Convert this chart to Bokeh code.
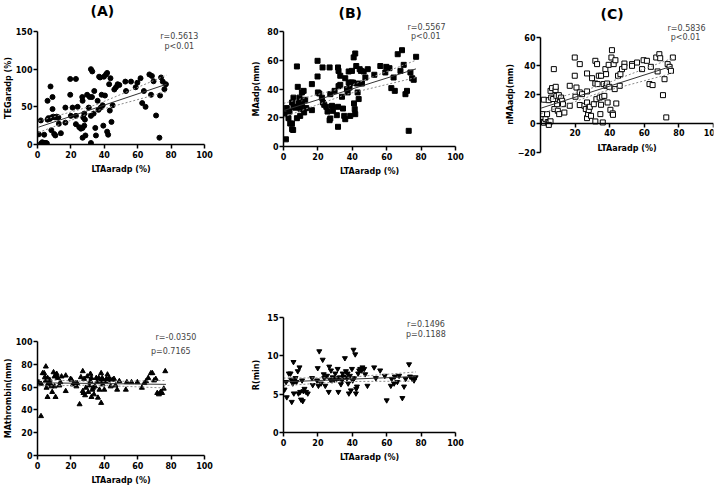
from bokeh.plotting import figure
from bokeh.layouts import row, column
from bokeh.models import Label, FixedTicker, Range1d, Title
from bokeh.embed import file_html
from bokeh.resources import INLINE

FONT = "DejaVu Sans"

# ---------------- data ----------------
xticks = [0, 20, 40, 60, 80, 100]
xticks_C = [20, 40, 60, 80, 100]

# (A) TEGaradp (%) vs LTAaradp (%)
lta_A = [0.8, 2, 2, 2.8, 3.9, 4.3, 5.1, 5.6, 4, 6,
         6, 7.4, 6.5, 8.5, 9.5, 10.5, 11.5, 12.5, 7.8, 9,
         9, 8.3, 10, 10.7, 12.8, 14, 16.7, 16.7, 19.6, 19.6,
         20, 21, 23, 23, 23, 24, 25, 26, 27, 28,
         26.8, 27, 27, 28, 28.4, 28.7, 29.7, 30.7, 31.3, 32,
         32.8, 32, 32.6, 32, 33.6, 34, 34.6, 35, 36, 36.5,
         36.9, 37.5, 37.9, 38.4, 39, 39.4, 39.8, 40.4, 41, 41.7,
         41.7, 42.3, 42.9, 43.3, 43.7, 44.3, 45, 46, 47, 48,
         49, 52.6, 53, 56, 58.8, 59.8, 61.7, 62.7, 63.7, 64.7,
         67, 68, 68.5, 69.5, 71, 73, 73.4, 74, 75, 76,
         76.9, 27.4]
teg_A = [13.5, 32, 1, 3, 2, 1.5, 2, 1.5, 13, 58,
         33, 34, 35, 36, 37, 36, 37, 36, 77, 63,
         47, 19, 14, 12, 27.5, 15, 49, 29, 87, 66,
         38, 49, 87, 38, 27, 50, 23, 21, 22, 25,
         63, 58, 9, 41, 33, 12, 66, 49, 63, 100,
         97, 2, 63, 38, 41, 71, 22, 12, 58, 46,
         90, 89, 49, 66, 52, 25, 90, 65, 93, 95,
         17, 13, 80, 45, 88, 30, 52, 73, 76, 80,
         79, 83.5, 71, 83.5, 76, 82, 88, 55, 71, 50,
         93, 66, 91, 84, 38.5, 9, 65, 89, 83.5, 73.5,
         80, 36]
fit_A_x = [0.6, 77.3]
fit_A_y = [23, 80]
band_A_x = [0.6, 35, 77.3]
band_A_hi = [31, 52.6, 92]
band_A_lo = [16, 44.6, 70]

# (B) MAadp(mm)
lta_B = [0.6, 1.4, 1.9, 2.9, 3.5, 3.9, 4.9, 5, 5.6, 5,
         5.8, 5.8, 7, 8, 7.8, 7.8, 8.3, 8.7, 9.3, 9.7,
         10, 10.7, 10.7, 11.7, 12, 12.6, 13.2, 16.5, 16.5, 19.8,
         19.8, 20, 20.8, 22.3, 22.7, 22.9, 23.7, 24.9, 25.6, 26.8,
         26.8, 27.2, 27.2, 28.2, 28.7, 29.7, 31, 31.7, 32, 31.7,
         31.7, 32, 33, 33, 34, 34.6, 35.3, 35.9, 35.9, 36.9,
         37.3, 37.9, 37.9, 38.4, 38.8, 39.4, 39.8, 40.4, 40.8, 41,
         41.4, 41.7, 41.7, 42.3, 42.7, 43.1, 43.7, 44.3, 45, 45.6,
         46.6, 47.6, 49, 52.8, 56.3, 59.2, 59.8, 61.6, 62.7, 64,
         64.7, 66.4, 68, 68.9, 69.9, 70.9, 71.8, 72.8, 73.8, 74.8,
         75.7, 77.1]
ma_B = [22.5, 5, 26.7, 19.7, 24.3, 16, 16, 12, 11.5, 30.6,
        27.6, 34, 27, 27.5, 55.7, 19.7, 41.5, 30.6, 34, 21.3,
        26, 29.4, 37.6, 38.7, 23.7, 32.5, 26.7, 43.4, 25.3, 59.6,
        48.7, 37.6, 36.9, 34, 55, 30.6, 29, 27.6, 24.3, 55,
        18.3, 19.5, 36.4, 28.3, 24.8, 38.7, 21.8, 55, 52.6, 13.7,
        27.6, 42, 42.9, 49.2, 34.6, 26.4, 21.3, 19, 47.5, 39.9,
        37.6, 52.2, 44.5, 41, 21.3, 44.5, 52.6, 44.5, 62, 30,
        26, 64.7, 22.5, 56, 43.8, 37.6, 33, 53.8, 52.6, 43.8,
        52.2, 48, 53.8, 49.9, 56, 51.5, 55.4, 54.5, 40.6, 48,
        38.7, 64.2, 52.6, 67, 56.8, 36.4, 38.7, 10.9, 51.5, 47.5,
        46.4, 62.4]
fit_B_x = [0, 77]
fit_B_y = [25, 54]
band_B_x = [0, 37, 77]
band_B_hi = [30, 41.5, 60]
band_B_lo = [20.5, 36.5, 48]

# (C) nMAadp(mm)
lta_C = [1, 1.3, 2, 1.9, 2.9, 3.8, 4.2, 5, 5.8, 4.8,
         4.8, 5.8, 6.2, 6.7, 7.3, 7.7, 8, 8.7, 8.8, 9.2,
         9.6, 10, 10.6, 10.8, 11.2, 11.9, 12.5, 13, 13.8, 16.9,
         16.9, 19.8, 19.8, 20.2, 20.8, 22.7, 22.7, 22.7, 24, 25.4,
         26.2, 26.9, 26.9, 26.9, 26.9, 27.5, 27.9, 28.5, 29.2, 29.8,
         30.8, 31.7, 31.7, 31.7, 32.3, 32.7, 33, 33.7, 34.2, 34.6,
         35, 35, 35.6, 36, 36.5, 36.9, 37.5, 37.9, 38, 38.5,
         38.8, 39.4, 39.8, 40.4, 41, 41.3, 41.7, 41.9, 42.3, 42.9,
         43.3, 43.8, 44.8, 45.8, 46.2, 47.1, 48.5, 48.5, 52.9, 52.9,
         55.8, 58.7, 59.6, 61.5, 63, 63.8, 64.8, 66.9, 67.7, 68.7,
         69.2, 70.8, 71.7, 72.7, 73.5, 74.6, 75.4, 76.5]
nma_C = [6.5, 1, 0.5, 16.5, 3, 6.5, 1, 0.5, 1.5, -1,
         16.2, 22.7, 18, 24.6, 17, 37.8, 10, 23.2, 25.5, 19.2,
         13.4, 8.8, 19.7, 6.5, 16.2, 18, 15.8, 13.4, 7.6, 26.2,
         12.3, 45.9, 33.2, 18.6, 25, 41.3, 21.6, 12.8, 20.4, 12.3,
         10, 34.8, 22.3, 14.6, 3.7, 6.5, 9.3, 11.6, 5.3, 31.5,
         13.4, 43.6, 27.8, 1.4, 16.9, 41.3, 27.4, 33.2, 18, 6.5,
         13, 33.2, 18.6, 0.7, 27.4, 19.2, 37.8, 34.3, 26.2, 27.8,
         14.6, 40.8, 25.5, 9.5, 45.9, 51, 7, 6, 41.3, 23.9,
         44, 13.9, 33.2, 26.2, 34.3, 37.8, 41.7, 39.4, 41.3, 40.1,
         42.4, 37.8, 44, 43.6, 27.4, 39.4, 26.7, 45.9, 36.2, 48.2,
         45.4, 19.7, 30.8, 4.2, 41.3, 39.4, 36.6, 45.9]
fit_C_x = [0.4, 76.5]
fit_C_y = [10.7, 40.1]
band_C_x = [0.4, 35, 76.5]
band_C_hi = [14.6, 26.5, 45.5]
band_C_lo = [6.8, 21.7, 35]

# (D) MAthrombin(mm)
lta_D = [0.6, 2.1, 2.1, 3.1, 4, 4.4, 5, 5, 5.4, 6,
         6, 6.3, 6.9, 7.3, 7.9, 8.3, 8.8, 9.6, 10.2, 10.2,
         10.8, 10.8, 11.5, 12.1, 13.1, 13.7, 14.4, 16.9, 16.9, 19.8,
         20.4, 21.2, 22.7, 23.3, 23.7, 25.2, 26, 27.1, 27.1, 27.5,
         27.9, 28.5, 29, 29.8, 30.4, 31, 31.7, 31.7, 32.3, 32.3,
         32.9, 33.3, 33.8, 34.4, 35.2, 35.6, 36.2, 36.7, 37.1, 37.5,
         38.1, 38.1, 38.7, 39, 39.4, 40, 40.6, 41.3, 41.9, 42.5,
         42.9, 43.8, 44.8, 45.8, 46.7, 47.7, 49, 52.9, 53.5, 56.3,
         59.8, 62.5, 64, 65, 66.3, 67.9, 68.8, 69.8, 70.8, 71.7,
         72.7, 73.7, 74.6, 75.6, 76.5]
mat_D = [64.3, 34.5, 62.9, 72.2, 72.2, 68.7, 78, 65.8, 59.4, 51.3,
         68, 62.9, 64.3, 66.4, 62.3, 60.6, 55.7, 73, 69.3, 60.6,
         51.3, 70.7, 71.6, 68, 61.4, 64.3, 69.3, 70.1, 56.5, 67.2,
         66.4, 62.3, 63.5, 60.6, 63.5, 44.9, 68.7, 73.9, 56.5, 54.8,
         67.2, 52.8, 59.4, 69.3, 55.7, 61.4, 71.6, 65.2, 51.3, 68,
         57.7, 59.4, 53.6, 60.6, 68, 64.3, 50.7, 68, 57.7, 65.2,
         72.2, 46.1, 68, 62.3, 65.8, 57.7, 65.2, 67.2, 71, 65.8,
         68, 60.6, 66.4, 67.2, 61.4, 57.7, 65.2, 57.7, 64.3, 64.3,
         64.3, 59.4, 63.5, 65.2, 68, 72.2, 72.2, 65.8, 67.2, 54.8,
         53.6, 55.7, 54.8, 58.6, 73.9]
fit_D_x = [0.6, 76.9]
fit_D_y = [63.8, 62.4]
band_D_x = [0.6, 35, 76.9]
band_D_hi = [66.6, 64.7, 65.8]
band_D_lo = [61, 61.7, 59.2]

# (E) R(min)
lta_E = [0.6, 1.5, 1.9, 3.1, 4.1, 4.4, 4.8, 5.4, 5.8, 6,
         6.4, 7, 7.5, 8.3, 8.7, 9.3, 9.7, 10.2, 10.8, 11.2,
         11.6, 12.2, 13.1, 14.1, 16.6, 17, 19.5, 19.9, 20.3, 20.8,
         21.8, 22.8, 23.4, 23.7, 24.3, 25.3, 26.3, 26.6, 27.2, 27.6,
         28.2, 28.6, 29.5, 30.1, 30.9, 31.5, 31.9, 32.2, 32.8, 33.4,
         34, 34.4, 35, 35.7, 36.3, 36.9, 37.3, 37.6, 38, 38.6,
         39.2, 39.8, 40.2, 40.7, 41.1, 41.7, 42.1, 42.3, 42.7, 43.4,
         44, 44.6, 45.4, 45.9, 46.9, 47.5, 48.8, 52.7, 53.7, 56.2,
         58.9, 60, 62.4, 62.9, 64.3, 64.7, 66.2, 67.2, 69.1, 70.1,
         71, 73, 73.6, 74.9, 75.9, 76.8]
r_E = [5.6, 6.6, 4.6, 7.7, 7.7, 6.9, 4, 6.4, 9.2, 5.1,
       6.7, 7.1, 6.6, 8, 5.1, 8.5, 5.3, 4.3, 6.8, 4.1,
       5.4, 5.7, 5.3, 5.1, 7.1, 6.2, 6.8, 8.4, 6.1, 10.6,
       6.4, 9.5, 7.6, 7.1, 6.1, 7.4, 5.3, 8.6, 6.9, 8.1,
       6.8, 7.2, 6.9, 7.7, 7, 8.3, 5.3, 7.1, 7.2, 6.3,
       6.8, 7.7, 7.3, 9.7, 8, 7.1, 7.7, 6.4, 5.1, 7.4,
       5.5, 8.3, 6.8, 10.8, 7.1, 10.2, 5.1, 5.7, 6, 7.7,
       8.1, 8.3, 8.1, 8.5, 8.3, 7.6, 6.1, 8.5, 7.1, 8.1,
       7.4, 4.2, 6.1, 7, 6.4, 7.3, 6.6, 7.4, 4.5, 6,
       7, 8.9, 7.3, 7, 6.8, 7.2]
fit_E_x = [0, 77]
fit_E_y = [6.6, 7.3]
band_E_x = [0, 35, 77]
band_E_hi = [7.1, 7.15, 7.9]
band_E_lo = [6.1, 6.65, 6.7]


def make_panel(xs, ys, fx, fy, bx, bhi, blo, yr, ybounds, yticks, ylabel, marker,
               width, height, bl, br, bt, bb, ylab_standoff=0, open_marker=False,
               xtick_list=xticks, x_at_zero=False):
    p = figure(width=width, height=height,
               x_range=Range1d(0, 100), y_range=Range1d(*yr),
               output_backend="svg", toolbar_location=None,
               min_border_left=bl, min_border_right=br,
               min_border_top=bt, min_border_bottom=bb)
    p.title_location = None
    p.outline_line_color = None
    p.xgrid.visible = False
    p.ygrid.visible = False
    p.background_fill_color = "white"
    p.border_fill_color = "white"
    for ax in p.axis:
        ax.axis_line_width = 1.5
        ax.axis_line_color = "black"
        ax.major_tick_line_width = 1.5
        ax.major_tick_line_color = "black"
        ax.major_tick_in = 0
        ax.major_tick_out = 4
        ax.minor_tick_line_color = None
        ax.major_label_text_font = FONT
        ax.major_label_text_font_style = "bold"
        ax.major_label_text_font_size = "8px"
        ax.major_label_text_color = "black"
        ax.axis_label_text_font = FONT
        ax.axis_label_text_font_style = "bold"
        ax.axis_label_text_font_size = "8px"
        ax.axis_label_text_color = "black"
    p.xaxis.major_label_standoff = 2
    p.xaxis.axis_label_standoff = 4
    p.yaxis.major_label_standoff = 1
    p.yaxis.axis_label_standoff = ylab_standoff
    p.xaxis.ticker = FixedTicker(ticks=xtick_list)
    p.yaxis.ticker = FixedTicker(ticks=yticks)
    p.yaxis.bounds = ybounds
    p.xaxis.axis_label = "LTAaradp (%)"
    p.yaxis.axis_label = ylabel
    if x_at_zero:
        p.xaxis.fixed_location = 0

    if open_marker:
        p.scatter(xs, ys, marker=marker, size=5, fill_color="white",
                  line_color="black", line_width=1)
    else:
        p.scatter(xs, ys, marker=marker, size=5, fill_color="black",
                  line_color="black")
    p.line(bx, bhi, line_color="#8a8a8a", line_width=1, line_dash="2 2")
    p.line(bx, blo, line_color="#8a8a8a", line_width=1, line_dash="2 2")
    p.line(fx, fy, line_color="#333333", line_width=1)
    return p


def stat_label(p, x, y, text, align="center"):
    p.add_layout(Label(x=x, y=y, text=text, text_font=FONT,
                       text_font_size="8px", text_color="#444444",
                       text_align=align, text_baseline="middle"))


def stat_title(p, text, offset, standoff=0):
    p.add_layout(Title(text=text, text_font=FONT, text_font_size="8px",
                       text_font_style="normal", text_color="#444444",
                       align="left", offset=offset, standoff=standoff), "above")


def panel_title(p, text, offset, standoff=0):
    p.add_layout(Title(text=text, text_font=FONT, text_font_size="14px",
                       text_font_style="bold", text_color="black",
                       align="left", offset=offset, standoff=standoff), "above")


def spacer(p, standoff):
    p.add_layout(Title(text="\u00a0", text_font=FONT, text_font_size="1px",
                       standoff=standoff), "above")


pA = make_panel(lta_A, teg_A, fit_A_x, fit_A_y, band_A_x, band_A_hi, band_A_lo,
                (0, 150), (0, 150), [0, 50, 100, 150], "TEGaradp (%)", "circle",
                240, 240, 33, 36, 30, 96, ylab_standoff=0)
stat_label(pA, 84.9, 143.4, "r=0.5613")
stat_label(pA, 84.9, 129.7, "p<0.01")
spacer(pA, 9.4)
panel_title(pA, "(A)", 53)

pB = make_panel(lta_B, ma_B, fit_B_x, fit_B_y, band_B_x, band_B_hi, band_B_lo,
                (0, 80), (0, 80), [0, 20, 40, 60, 80], "MAadp(mm)", "square",
                240, 240, 43, 25, 31, 94, ylab_standoff=3)
stat_title(pB, "r=0.5567", 124)
stat_label(pB, 82.7, 76.3, "p<0.01")
panel_title(pB, "(B)", 55)

pC = make_panel(lta_C, nma_C, fit_C_x, fit_C_y, band_C_x, band_C_hi, band_C_lo,
                (-23, 63.3), (-20, 60), [-20, 0, 20, 40, 60], "nMAadp(mm)", "square",
                240, 240, 60, 7, 32, 84, ylab_standoff=0, open_marker=True,
                xtick_list=xticks_C, x_at_zero=True)
stat_title(pC, "r=0.5836", 127)
stat_label(pC, 83.8, 60.0, "p<0.01")
panel_title(pC, "(C)", 60)

pD = make_panel(lta_D, mat_D, fit_D_x, fit_D_y, band_D_x, band_D_hi, band_D_lo,
                (0, 100), (0, 100), [0, 20, 40, 60, 80, 100], "MAthrombin(mm)", "triangle",
                240, 247, 33, 36, 101, 32, ylab_standoff=0)
stat_title(pD, "r=-0.0350", 118)
stat_label(pD, 67.9, 91.3, "p=0.7165", align="left")

pE = make_panel(lta_E, r_E, fit_E_x, fit_E_y, band_E_x, band_E_hi, band_E_lo,
                (0, 15), (0, 15), [0, 5, 10, 15], "R(min)", "inverted_triangle",
                240, 247, 43, 25, 77, 55, ylab_standoff=3)
stat_label(pE, 82.8, 14.14, "r=0.1496")
stat_label(pE, 82.8, 12.72, "p=0.1188")

layout = row(column(pA, pD), column(pB, pE), pC)
open("out.html", "w").write(file_html(layout, INLINE))
